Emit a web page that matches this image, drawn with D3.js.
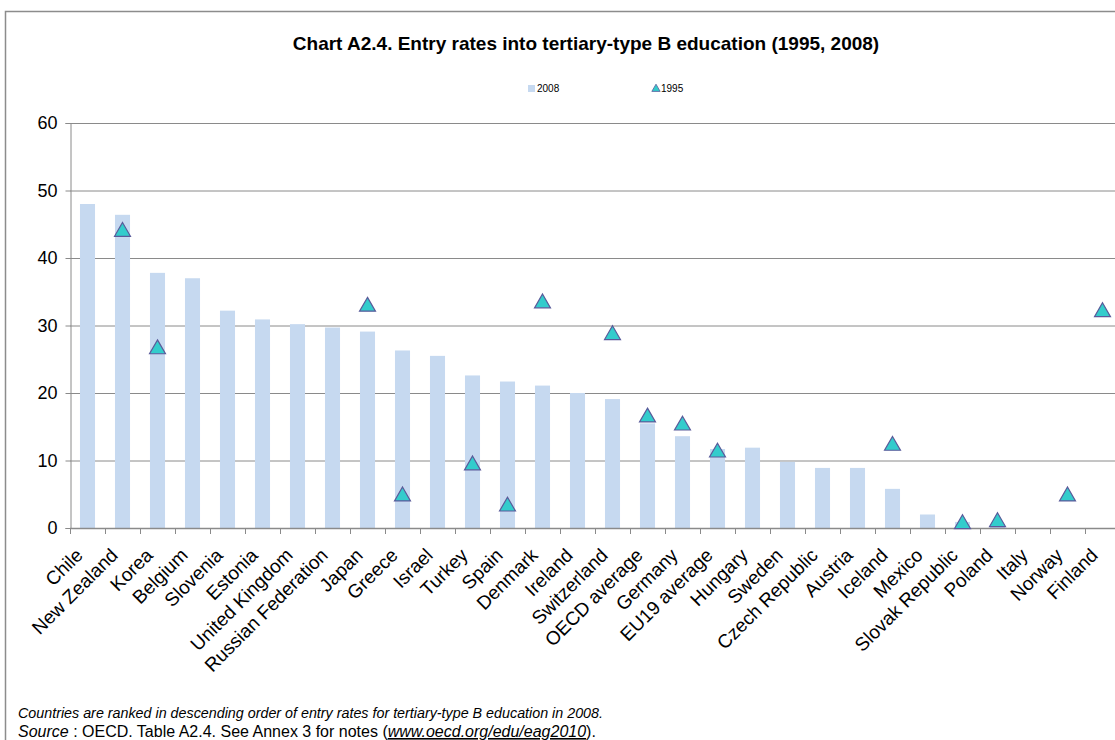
<!DOCTYPE html>
<html lang="en">
<head>
	<meta charset="UTF-8">
	<script src="https://d3js.org/d3.v7.min.js"></script>
	<title>Entry rates into tertiary-type B education</title>
	<style>
		body { margin: 0; background: #fff; }
		svg { display: block; font-family: Arial, "Liberation Sans", sans-serif; }
		.note { font-size: 15.5px; }
	</style>
</head>
<body>
	<svg width="1115" height="740"></svg>

	<script>
		const countries = ['Chile', 'New Zealand', 'Korea', 'Belgium', 'Slovenia', 'Estonia', 'United Kingdom',
			'Russian Federation', 'Japan', 'Greece', 'Israel', 'Turkey', 'Spain', 'Denmark', 'Ireland',
			'Switzerland', 'OECD average', 'Germany', 'EU19 average', 'Hungary', 'Sweden', 'Czech Republic',
			'Austria', 'Iceland', 'Mexico', 'Slovak Republic', 'Poland', 'Italy', 'Norway', 'Finland'];
		const rates2008 = [48.0, 46.4, 37.8, 37.0, 32.2, 30.9, 30.2, 29.7, 29.1, 26.3, 25.5, 22.6, 21.7, 21.1, 20.0,
			19.1, 15.5, 13.6, 11.7, 11.9, 9.8, 8.9, 8.9, 5.8, 2.0, 0.9, 0.5, 0, 0, 0];
		const rates1995 = [null, 43.9, 26.5, null, null, null, null, null, 32.8, 4.7, null, 9.3, 3.2, 33.3, null,
			28.6, 16.4, 15.2, 11.2, null, null, null, null, 12.2, null, 0.6, 0.9, null, 4.7, 32.0];
		const yTicks = [0, 10, 20, 30, 40, 50, 60];

		const svg = d3.select('svg');
		const plotLeft = 70, plotRight = 1120, plotTop = 123, plotBottom = 528;

		// outer frame
		svg.append('rect')
			.attr('x', 5.5).attr('y', 11.5)
			.attr('width', 1130).attr('height', 760)
			.attr('fill', 'none').attr('stroke', '#8c8c8c').attr('stroke-width', 1.5);

		svg.append('text')
			.attr('x', 586).attr('y', 50)
			.attr('text-anchor', 'middle')
			.style('font-size', '19px').style('font-weight', 'bold')
			.text('Chart A2.4. Entry rates into tertiary-type B education (1995, 2008)');

		const x = d3.scaleBand().domain(countries).range([plotLeft, plotRight]).paddingInner(0.57).paddingOuter(0.285);
		const y = d3.scaleLinear().domain([0, 60]).range([plotBottom, plotTop]);

		// gridlines
		svg.append('g')
			.selectAll('line')
			.data(yTicks.filter(d => d > 0))
			.enter()
			.append('line')
			.attr('x1', plotLeft).attr('x2', 1115)
			.attr('y1', d => y(d) + 0.5).attr('y2', d => y(d) + 0.5)
			.attr('stroke', '#8a8a8a').attr('stroke-width', 1);

		// bars
		svg.append('g')
			.selectAll('rect')
			.data(countries)
			.enter()
			.append('rect')
			.attr('x', d => x(d))
			.attr('width', x.bandwidth())
			.attr('y', (d, i) => y(rates2008[i]))
			.attr('height', (d, i) => plotBottom - y(rates2008[i]))
			.attr('fill', '#c6d9f0');

		// y axis
		const yAxis = svg.append('g')
			.attr('transform', `translate(${plotLeft + 0.5},0)`)
			.call(d3.axisLeft(y).tickValues(yTicks).tickSize(5).tickPadding(8));
		yAxis.select('.domain').attr('stroke', '#8a8a8a');
		yAxis.selectAll('.tick line').attr('stroke', '#8a8a8a');
		yAxis.selectAll('text').style('font-size', '18px').attr('fill', '#000').attr('font-family', 'Arial, "Liberation Sans", sans-serif');

		// x axis with ticks at category boundaries
		const step = x.step();
		svg.append('line')
			.attr('x1', plotLeft).attr('x2', 1115)
			.attr('y1', plotBottom + 0.5).attr('y2', plotBottom + 0.5)
			.attr('stroke', '#8a8a8a').attr('stroke-width', 1.5);
		svg.append('g')
			.selectAll('line')
			.data(d3.range(countries.length))
			.enter()
			.append('line')
			.attr('x1', i => plotLeft + i * step + 0.5).attr('x2', i => plotLeft + i * step + 0.5)
			.attr('y1', plotBottom).attr('y2', plotBottom + 6)
			.attr('stroke', '#8a8a8a');

		svg.append('g')
			.selectAll('text')
			.data(countries)
			.enter()
			.append('text')
			.attr('transform', d => `translate(${x(d) + x.bandwidth() / 2 - 13},${plotBottom + 19}) rotate(-45)`)
			.attr('text-anchor', 'end')
			.attr('dy', '0.7em')
			.style('font-size', '19px')
			.text(d => d);

		// 1995 triangles
		const tri = d3.symbol().type(d3.symbolTriangle).size(110);
		svg.append('g')
			.selectAll('path')
			.data(countries.map((c, i) => ({ c, v: rates1995[i] })).filter(d => d.v !== null))
			.enter()
			.append('path')
			.attr('d', tri)
			.attr('transform', d => `translate(${x(d.c) + x.bandwidth() / 2},${y(d.v)})`)
			.attr('fill', '#33cccc').attr('stroke', '#5a5a9a').attr('stroke-width', 1.2);

		// legend
		const legend = svg.append('g').style('font-size', '10px');
		legend.append('rect').attr('x', 528).attr('y', 85).attr('width', 7).attr('height', 7).attr('fill', '#c6d9f0');
		legend.append('text').attr('x', 537).attr('y', 92).text('2008');
		legend.append('path').attr('d', d3.symbol().type(d3.symbolTriangle).size(30))
			.attr('transform', 'translate(656,89)')
			.attr('fill', '#33cccc').attr('stroke', '#5a5a9a').attr('stroke-width', 0.8);
		legend.append('text').attr('x', 661).attr('y', 92).text('1995');

		// notes
		svg.append('text').attr('class', 'note').attr('x', 18).attr('y', 718)
			.attr('textLength', 585).attr('lengthAdjust', 'spacingAndGlyphs')
			.style('font-style', 'italic')
			.text('Countries are ranked in descending order of entry rates for tertiary-type B education in 2008.');
		const note2 = svg.append('text').attr('class', 'note').attr('x', 18).attr('y', 737)
			.style('font-size', '16px');
		note2.append('tspan').style('font-style', 'italic').text('Source');
		note2.append('tspan').text(' : OECD. Table A2.4. See Annex 3 for notes (');
		note2.append('tspan').style('font-style', 'italic').style('text-decoration', 'underline').text('www.oecd.org/edu/eag2010');
		note2.append('tspan').text(').');
	</script>
</body>
</html>
